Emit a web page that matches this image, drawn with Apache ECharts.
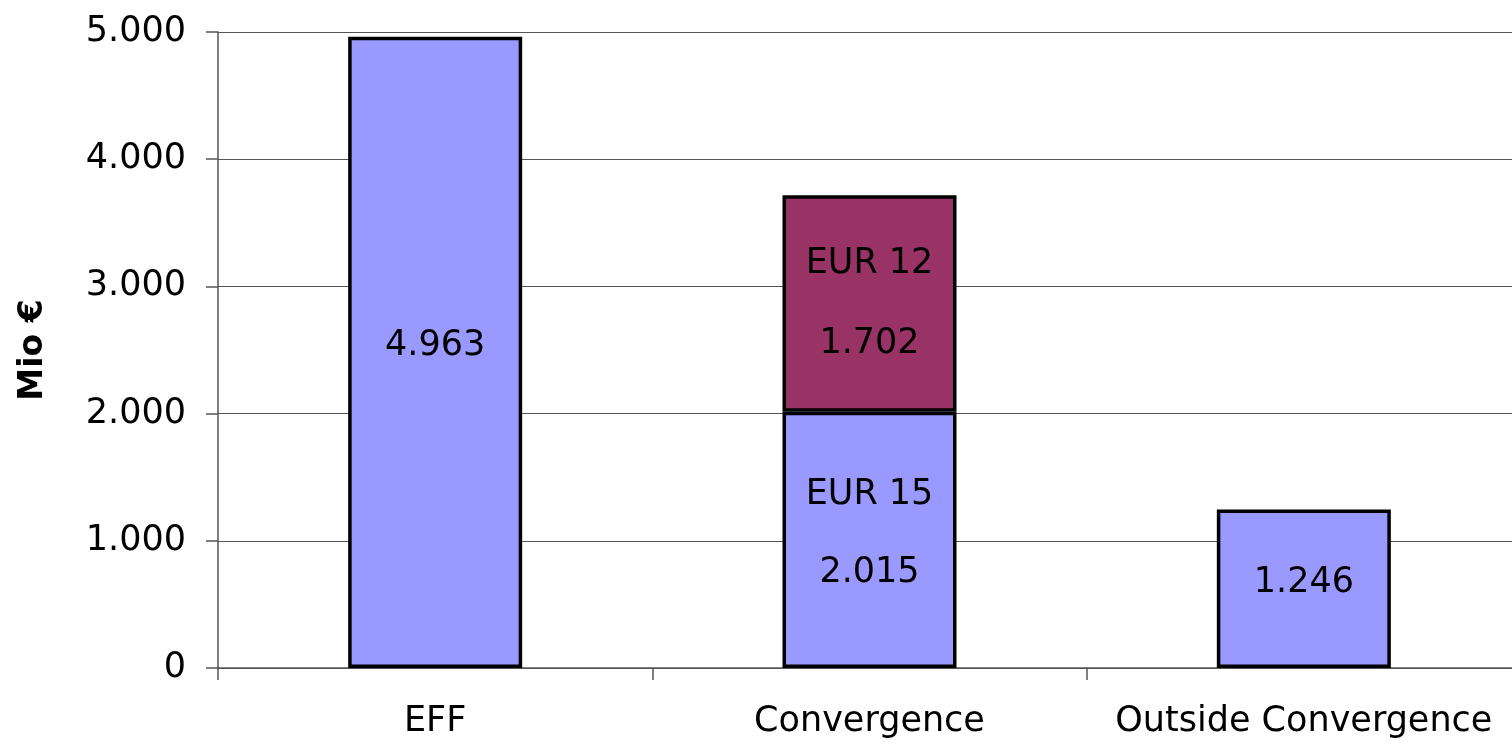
<!DOCTYPE html>
<html>
<head>
<meta charset="utf-8">
<script src="https://cdn.jsdelivr.net/npm/echarts@6/dist/echarts.min.js"></script>
<style>
  html, body { margin: 0; padding: 0; background: #fff; }
  #chart { width: 1512px; height: 744px; }
</style>
</head>
<body>
<div id="chart"></div>
<script>
const categories = ['EFF', 'Convergence', 'Outside Convergence'];
const eur15Values = [4963, 2015, 1246];
const eur12Values = ['-', 1702, '-'];
const segmentNames = ['', 'EUR 15', ''];
const topSegmentNames = ['', 'EUR 12', ''];
const yTicks = { min: 0, max: 5000, interval: 1000 };

// the original text is drawn quite wide, DejaVu Sans gets closest
const font = 'DejaVu Sans, Liberation Sans, sans-serif';
const fs = 35;

// 4963 -> 4.963
function fmt(v) {
  return String(v).replace(/\B(?=(\d{3})+(?!\d))/g, '.');
}

function labelText(names) {
  return function (p) {
    const n = names[p.dataIndex];
    return n ? n + '\n' + fmt(p.value) : fmt(p.value);
  };
}

const chart = echarts.init(document.getElementById('chart'));
chart.setOption({
  animation: false,
  textStyle: { fontFamily: font },
  grid: { left: 218, right: -9, top: 32, bottom: 76, containLabel: false, outerBoundsMode: 'none' },
  xAxis: {
    type: 'category',
    data: categories,
    axisLine: { lineStyle: { color: '#555', width: 1.5 } },
    axisTick: { show: true, interval: 0, length: 12, lineStyle: { color: '#555', width: 1.5 } },
    axisLabel: { color: '#000', fontSize: fs, margin: 36, interval: 0, hideOverlap: false, fontFamily: font }
  },
  yAxis: {
    type: 'value',
    min: yTicks.min,
    max: yTicks.max,
    interval: yTicks.interval,
    name: 'Mio €',
    nameLocation: 'middle',
    nameGap: 168,
    nameTextStyle: { color: '#000', fontSize: 33, fontWeight: 'bold', fontFamily: font },
    axisLine: { show: true, lineStyle: { color: '#555', width: 1.5 } },
    axisTick: { show: true, length: 12, lineStyle: { color: '#555', width: 1.5 } },
    axisLabel: { color: '#000', fontSize: fs, margin: 32, fontFamily: font, formatter: fmt },
    splitLine: { lineStyle: { color: '#555', width: 1.2 } }
  },
  series: [
    {
      name: 'EUR 15',
      type: 'bar',
      stack: 'total',
      data: eur15Values,
      barWidth: 174,
      itemStyle: { color: '#9999FF', borderColor: '#000', borderWidth: 3.5 },
      label: {
        show: true,
        position: 'inside',
        color: '#000',
        fontSize: fs,
        fontFamily: font,
        lineHeight: 78,
        offset: [0, -6],
        formatter: labelText(segmentNames)
      }
    },
    {
      name: 'EUR 12',
      type: 'bar',
      stack: 'total',
      data: eur12Values,
      barWidth: 174,
      itemStyle: { color: '#993366', borderColor: '#000', borderWidth: 3.5 },
      label: {
        show: true,
        position: 'inside',
        color: '#000',
        fontSize: fs,
        fontFamily: font,
        lineHeight: 80,
        formatter: labelText(topSegmentNames)
      }
    }
  ]
});
</script>
</body>
</html>
